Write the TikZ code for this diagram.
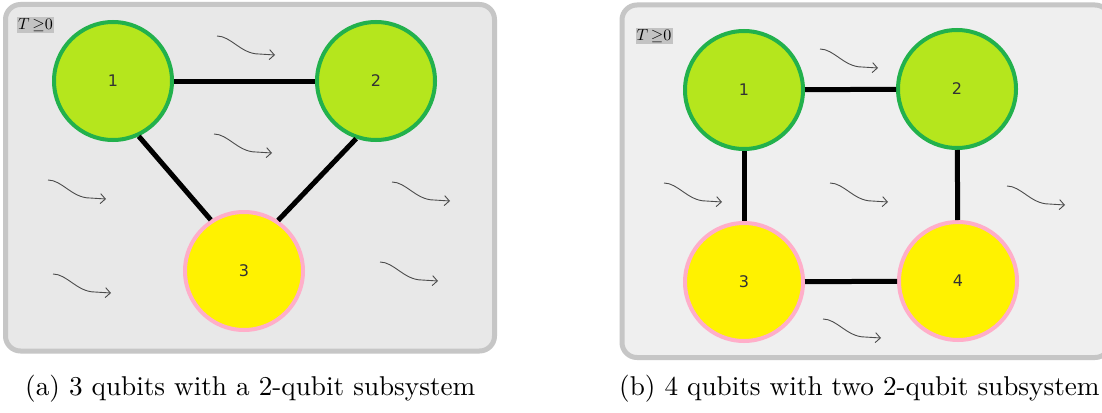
\documentclass[tikz,border=0pt]{standalone}
\usepackage{
	amsmath,			% Math Environments
	amssymb,			% Extended Symbols
	graphicx,			% Scale Captions
	fontspec,			% Sans Labels
	xcolor
}
\usetikzlibrary{arrows.meta}

\newfontfamily\qubitfont{DejaVu Sans}

\definecolor{qubitgreen}{HTML}{B5E61D}
\definecolor{qubitrim}{HTML}{22B14C}
\definecolor{qubityellow}{HTML}{FFF200}
\definecolor{qubitpink}{HTML}{FFAEC9}
\definecolor{panela}{HTML}{E8E8E8}
\definecolor{panelb}{HTML}{EFEFEF}
\definecolor{panelrim}{HTML}{C6C6C6}
\definecolor{templabel}{HTML}{C3C3C3}

\tikzset{
	qubit/.style={circle, minimum size=118pt, line width=4pt, inner sep=0pt,
		font=\qubitfont\fontsize{16}{16}\selectfont, text=black!80},
	free/.style={qubit, fill=qubitgreen, draw=qubitrim},
	sub/.style={qubit, fill=qubityellow, draw=qubitpink},
	coupling/.style={line width=5pt},
	drift/.style={-{Straight Barb[length=5pt,width=10pt]}, line width=0.9pt, black!70},
	panel/.style={rounded corners=15pt, draw=panelrim, line width=5pt},
	temp/.style={fill=templabel, inner sep=0pt, minimum width=37pt, minimum height=16pt},
	caption/.style={anchor=base west, inner sep=0pt}
}

\begin{document}
\begin{tikzpicture}[x=1pt, y=-1pt]
		\useasboundingbox (0,0) rectangle (1102,412);
		\clip (0,0) rectangle (1102,412);
		\fill[white] (0,0) rectangle (1102,412);
		\filldraw[panel, fill=panela] (5.5,4.5) rectangle (494.5,351);
		\filldraw[panel, fill=panelb] (622,5) rectangle (1110,357.5);
		\node[temp] (ta) at (35.5,25.5) {\scalebox{1.6}{$T\,{\geq}0$}};
		\node[temp] (tb) at (654,36) {\scalebox{1.6}{$T\,{\geq}0$}};
		\foreach \x/\y in {217/36, 214/134, 48/180, 53/274, 392/182, 380/262,
				820/49, 664/183, 830/183, 823/319, 1007/186}
			\draw[drift] (\x,\y) .. controls (\x+14,\y) and (\x+24,\y+18) .. (\x+42,\y+18) -- (\x+58,\y+19);
		\node[free] (a1) at (113,81) {1};
		\node[free] (a2) at (376,81) {2};
		\node[sub] (a3) at (244,271) {3};
		\draw[coupling] (a1) -- (a2);
		\draw[coupling] (a1.295) -- (a3.123);
		\draw[coupling] (a2.251) -- (a3.56);
		\node[free] (b1) at (744,90) {1};
		\node[free] (b2) at (957,89) {2};
		\node[sub] (b3) at (744,282) {3};
		\node[sub] (b4) at (958,281) {4};
		\draw[coupling] (b1) -- (b2);
		\draw[coupling] (b1) -- (b3);
		\draw[coupling] (b3) -- (b4);
		\draw[coupling] (b2) -- (b4);
		\node[caption] (capa) at (25,395) {\scalebox{2.72}{(a) 3 qubits with a 2-qubit subsystem}};
		\node[caption] (capb) at (619,395) {\scalebox{2.72}{(b) 4 qubits with two 2-qubit subsystem}};
	\end{tikzpicture}
\end{document}
